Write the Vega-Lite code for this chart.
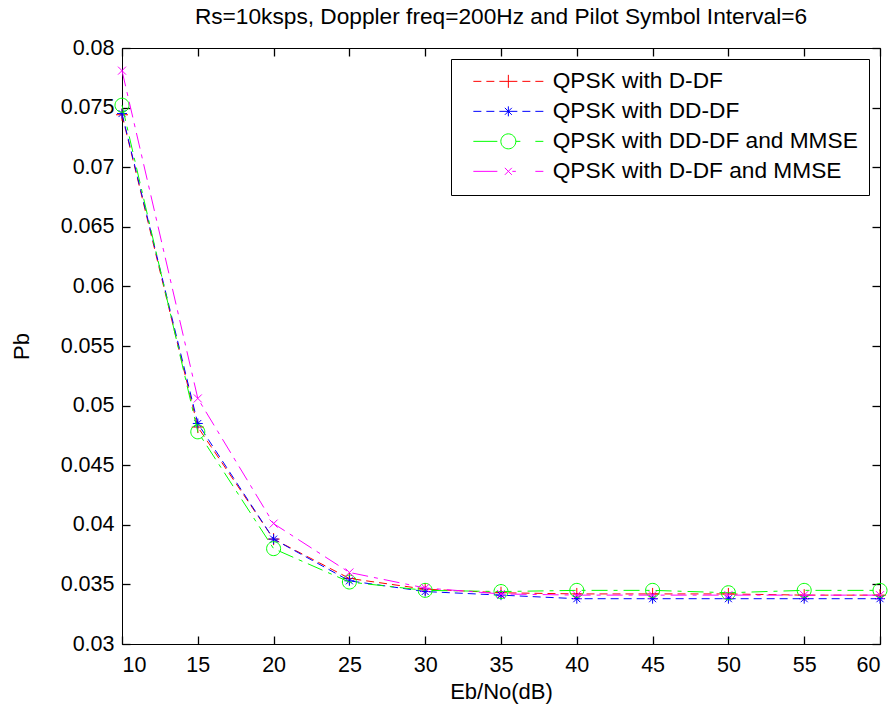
{
  "$schema": "https://vega.github.io/schema/vega-lite/v6.json",
  "width": 758,
  "height": 596,
  "autosize": "none",
  "padding": {"left": 122, "top": 48, "right": 15, "bottom": 69},
  "background": "white",
  "title": {
    "text": "Rs=10ksps, Doppler freq=200Hz and Pilot Symbol Interval=6",
    "fontSize": 22.7,
    "font": "Liberation Sans",
    "fontWeight": "normal",
    "color": "black",
    "offset": 8,
    "frame": "group",
    "anchor": "middle"
  },
  "config": {
    "view": {"stroke": "black", "strokeWidth": 1},
    "font": "Liberation Sans",
    "axis": {
      "grid": false,
      "domainColor": "black",
      "domainWidth": 1,
      "labelColor": "black",
      "titleColor": "black",
      "labelFont": "Liberation Sans",
      "titleFont": "Liberation Sans",
      "labelFontSize": 21.5,
      "titleFontSize": 22,
      "titleFontWeight": "normal"
    },
    "legend": {
      "orient": "top-right",
      "offset": 11,
      "padding": 11,
      "strokeColor": "black",
      "fillColor": "white",
      "labelFont": "Liberation Sans",
      "labelFontSize": 22.7,
      "labelColor": "black",
      "labelLimit": 400,
      "symbolSize": 100,
      "symbolStrokeWidth": 1,
      "labelOffset": 68,
      "rowPadding": 6
    }
  },
  "data": {
    "values": [
      {"snr": 10, "series": "QPSK with D-DF", "pb": 0.0744},
      {"snr": 15, "series": "QPSK with D-DF", "pb": 0.0482},
      {"snr": 20, "series": "QPSK with D-DF", "pb": 0.0388},
      {"snr": 25, "series": "QPSK with D-DF", "pb": 0.0355},
      {"snr": 30, "series": "QPSK with D-DF", "pb": 0.0346},
      {"snr": 35, "series": "QPSK with D-DF", "pb": 0.0343},
      {"snr": 40, "series": "QPSK with D-DF", "pb": 0.0342},
      {"snr": 45, "series": "QPSK with D-DF", "pb": 0.0342},
      {"snr": 50, "series": "QPSK with D-DF", "pb": 0.0342},
      {"snr": 55, "series": "QPSK with D-DF", "pb": 0.0341},
      {"snr": 60, "series": "QPSK with D-DF", "pb": 0.0341},
      {"snr": 10, "series": "QPSK with DD-DF", "pb": 0.0745},
      {"snr": 15, "series": "QPSK with DD-DF", "pb": 0.0485},
      {"snr": 20, "series": "QPSK with DD-DF", "pb": 0.0388},
      {"snr": 25, "series": "QPSK with DD-DF", "pb": 0.0353},
      {"snr": 30, "series": "QPSK with DD-DF", "pb": 0.0344},
      {"snr": 35, "series": "QPSK with DD-DF", "pb": 0.0341},
      {"snr": 40, "series": "QPSK with DD-DF", "pb": 0.0338},
      {"snr": 45, "series": "QPSK with DD-DF", "pb": 0.0338},
      {"snr": 50, "series": "QPSK with DD-DF", "pb": 0.0338},
      {"snr": 55, "series": "QPSK with DD-DF", "pb": 0.0338},
      {"snr": 60, "series": "QPSK with DD-DF", "pb": 0.0338},
      {"snr": 10, "series": "QPSK with DD-DF and MMSE", "pb": 0.0752},
      {"snr": 15, "series": "QPSK with DD-DF and MMSE", "pb": 0.0478},
      {"snr": 20, "series": "QPSK with DD-DF and MMSE", "pb": 0.0380},
      {"snr": 25, "series": "QPSK with DD-DF and MMSE", "pb": 0.0352},
      {"snr": 30, "series": "QPSK with DD-DF and MMSE", "pb": 0.0345},
      {"snr": 35, "series": "QPSK with DD-DF and MMSE", "pb": 0.0344},
      {"snr": 40, "series": "QPSK with DD-DF and MMSE", "pb": 0.0345},
      {"snr": 45, "series": "QPSK with DD-DF and MMSE", "pb": 0.0345},
      {"snr": 50, "series": "QPSK with DD-DF and MMSE", "pb": 0.0343},
      {"snr": 55, "series": "QPSK with DD-DF and MMSE", "pb": 0.0345},
      {"snr": 60, "series": "QPSK with DD-DF and MMSE", "pb": 0.0345},
      {"snr": 10, "series": "QPSK with D-DF and MMSE", "pb": 0.0781},
      {"snr": 15, "series": "QPSK with D-DF and MMSE", "pb": 0.0506},
      {"snr": 20, "series": "QPSK with D-DF and MMSE", "pb": 0.0401},
      {"snr": 25, "series": "QPSK with D-DF and MMSE", "pb": 0.0360},
      {"snr": 30, "series": "QPSK with D-DF and MMSE", "pb": 0.0347},
      {"snr": 35, "series": "QPSK with D-DF and MMSE", "pb": 0.0342},
      {"snr": 40, "series": "QPSK with D-DF and MMSE", "pb": 0.0341},
      {"snr": 45, "series": "QPSK with D-DF and MMSE", "pb": 0.0341},
      {"snr": 50, "series": "QPSK with D-DF and MMSE", "pb": 0.0341},
      {"snr": 55, "series": "QPSK with D-DF and MMSE", "pb": 0.0341},
      {"snr": 60, "series": "QPSK with D-DF and MMSE", "pb": 0.0341}
    ]
  },
  "layer": [
    {
      "transform": [{"filter": "datum.series === 'QPSK with D-DF'"}],
      "mark": {"type": "line", "strokeWidth": 1, "color": "#ff0000", "strokeDash": [8, 5]},
      "encoding": {
        "x": {
          "field": "snr", "type": "quantitative",
          "scale": {"domain": [10, 60]},
          "axis": {"orient": "bottom", "values": [10, 15, 20, 25, 30, 35, 40, 45, 50, 55, 60], "title": "Eb/No(dB)", "ticks": false, "tickSize": 0, "labelPadding": 10, "titlePadding": 6}
        },
        "y": {
          "field": "pb", "type": "quantitative",
          "scale": {"domain": [0.03, 0.08], "zero": false},
          "axis": {"orient": "left", "values": [0.03, 0.035, 0.04, 0.045, 0.05, 0.055, 0.06, 0.065, 0.07, 0.075, 0.08], "format": ".3~f", "title": "Pb", "ticks": false, "tickSize": 0, "labelPadding": 8, "titlePadding": 27}
        }
      }
    },
    {
      "transform": [{"filter": "datum.series === 'QPSK with D-DF'"}],
      "mark": {"type": "point", "shape": "M-1.2,0L1.2,0M0,-1.2L0,1.2", "filled": false, "size": 100, "strokeWidth": 1, "opacity": 1, "color": "#ff0000"},
      "encoding": {
        "x": {
          "field": "snr", "type": "quantitative",
          "axis": {"orient": "top", "offset": -596, "values": [10, 15, 20, 25, 30, 35, 40, 45, 50, 55, 60], "labels": false, "domain": false, "title": null, "ticks": true, "tickSize": 8, "tickColor": "#000000", "tickWidth": 1.3}
        },
        "y": {
          "field": "pb", "type": "quantitative",
          "axis": {"orient": "right", "offset": -758, "values": [0.03, 0.035, 0.04, 0.045, 0.05, 0.055, 0.06, 0.065, 0.07, 0.075, 0.08], "labels": false, "domain": false, "title": null, "ticks": true, "tickSize": 8, "tickColor": "#000000", "tickWidth": 1.3}
        }
      }
    },
    {
      "transform": [{"filter": "datum.series === 'QPSK with DD-DF'"}],
      "mark": {"type": "line", "strokeWidth": 1, "color": "#0000ff", "strokeDash": [8, 5]},
      "encoding": {
        "x": {
          "field": "snr", "type": "quantitative",
          "axis": {"orient": "bottom", "offset": -596, "values": [10, 15, 20, 25, 30, 35, 40, 45, 50, 55, 60], "labels": false, "domain": false, "title": null, "ticks": true, "tickSize": 8, "tickColor": "#000000", "tickWidth": 1.3}
        },
        "y": {
          "field": "pb", "type": "quantitative",
          "axis": {"orient": "left", "offset": -758, "values": [0.03, 0.035, 0.04, 0.045, 0.05, 0.055, 0.06, 0.065, 0.07, 0.075, 0.08], "labels": false, "domain": false, "title": null, "ticks": true, "tickSize": 8, "tickColor": "#000000", "tickWidth": 1.3}
        }
      }
    },
    {
      "transform": [{"filter": "datum.series === 'QPSK with DD-DF'"}],
      "mark": {"type": "point", "shape": "M-1,0L1,0M0,-1L0,1M-0.7,-0.7L0.7,0.7M-0.7,0.7L0.7,-0.7", "filled": false, "size": 100, "strokeWidth": 1, "opacity": 1, "color": "#0000ff"},
      "encoding": {
        "x": {"field": "snr", "type": "quantitative", "axis": null},
        "y": {"field": "pb", "type": "quantitative", "axis": null}
      }
    },
    {
      "transform": [{"filter": "datum.series === 'QPSK with DD-DF and MMSE'"}],
      "mark": {"type": "line", "strokeWidth": 1, "color": "#00ff00", "strokeDash": [16, 6, 4, 6]},
      "encoding": {
        "x": {"field": "snr", "type": "quantitative", "axis": null},
        "y": {"field": "pb", "type": "quantitative", "axis": null}
      }
    },
    {
      "transform": [{"filter": "datum.series === 'QPSK with DD-DF and MMSE'"}],
      "mark": {"type": "point", "shape": "M1.4,0A1.4,1.4,0,1,1,-1.4,0A1.4,1.4,0,1,1,1.4,0", "filled": false, "size": 100, "strokeWidth": 1, "opacity": 1, "color": "#00ff00"},
      "encoding": {
        "x": {"field": "snr", "type": "quantitative", "axis": null},
        "y": {"field": "pb", "type": "quantitative", "axis": null}
      }
    },
    {
      "transform": [{"filter": "datum.series === 'QPSK with D-DF and MMSE'"}],
      "mark": {"type": "line", "strokeWidth": 1, "color": "#ff00ff", "strokeDash": [16, 6, 4, 6]},
      "encoding": {
        "x": {"field": "snr", "type": "quantitative", "axis": null},
        "y": {"field": "pb", "type": "quantitative", "axis": null}
      }
    },
    {
      "transform": [{"filter": "datum.series === 'QPSK with D-DF and MMSE'"}],
      "mark": {"type": "point", "shape": "M-0.8,-0.8L0.8,0.8M-0.8,0.8L0.8,-0.8", "filled": false, "size": 100, "strokeWidth": 1, "opacity": 1, "color": "#ff00ff"},
      "encoding": {
        "x": {"field": "snr", "type": "quantitative", "axis": null},
        "y": {"field": "pb", "type": "quantitative", "axis": null}
      }
    },
    {
      "transform": [{"filter": "datum.pb < 0"}],
      "mark": {"type": "point", "filled": false, "size": 100, "strokeWidth": 1, "opacity": 1},
      "encoding": {
        "x": {"field": "snr", "type": "quantitative", "axis": null},
        "y": {"field": "pb", "type": "quantitative", "axis": null},
        "color": {
          "field": "series", "type": "nominal",
          "scale": {"domain": ["QPSK with D-DF", "QPSK with DD-DF", "QPSK with DD-DF and MMSE", "QPSK with D-DF and MMSE"], "range": ["#ff0000", "#0000ff", "#00ff00", "#ff00ff"]},
          "legend": {"title": null}
        },
        "shape": {
          "field": "series", "type": "nominal",
          "scale": {
            "domain": ["QPSK with D-DF", "QPSK with DD-DF", "QPSK with DD-DF and MMSE", "QPSK with D-DF and MMSE"],
            "range": [
              "M0,0L1.6,0M2.6,0L4.2,0M5.2,0L8.8,0M9.8,0L11.4,0M12.4,0L14,0M7,-1.3L7,1.3",
              "M0,0L1.6,0M2.6,0L4.2,0M5.2,0L8.8,0M9.8,0L11.4,0M12.4,0L14,0M7,-1L7,1M6.3,-0.7L7.7,0.7M6.3,0.7L7.7,-0.7",
              "M0,0L4.8,0M8.5,0L9.4,0M12.4,0L14,0M8.5,0A1.5,1.5,0,1,1,5.5,0A1.5,1.5,0,1,1,8.5,0",
              "M0,0L4.8,0M6.3,-0.7L7.7,0.7M6.3,0.7L7.7,-0.7M7.8,0L8.5,0M12.4,0L14,0"
            ]
          },
          "legend": {"title": null}
        }
      }
    }
  ],
  "resolve": {"axis": {"x": "independent", "y": "independent"}}
}
